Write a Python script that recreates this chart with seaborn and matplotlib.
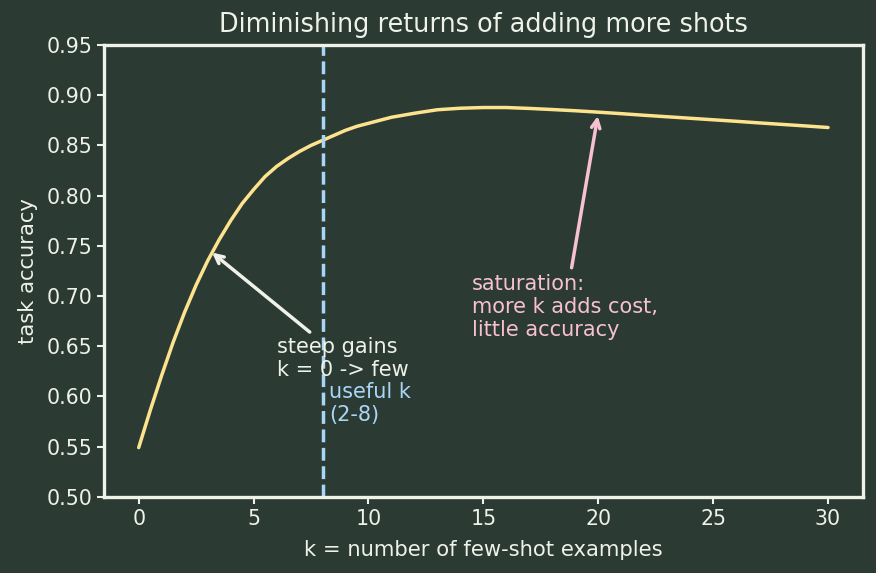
import numpy as np
import pandas as pd
import matplotlib
matplotlib.use("Agg")
import matplotlib.pyplot as plt
import seaborn as sns

# k values and accuracy
k_values = [0, 0.5, 1, 1.5, 2, 2.5, 3, 3.5, 4, 4.5, 5, 5.5, 6, 6.5, 7, 7.5,
            8, 8.5, 9, 9.5, 10, 10.5, 11, 11.5, 12,
            13, 14, 15, 16, 17, 18, 19, 20, 21, 22, 23, 24, 25, 26, 27, 28,
            29, 30]
accuracy = [0.549, 0.586, 0.621, 0.654, 0.684, 0.711, 0.735, 0.756, 0.775,
            0.792, 0.806, 0.819, 0.829, 0.837, 0.844, 0.850,
            0.855, 0.860, 0.865, 0.869, 0.872, 0.875, 0.878, 0.880, 0.882,
            0.8855, 0.887, 0.8877, 0.8877, 0.8868, 0.8857, 0.8845, 0.8831,
            0.8816, 0.8800, 0.8785, 0.8770, 0.8755, 0.8740, 0.8724, 0.8709,
            0.8694, 0.8678]

useful_k = 8
steep_point = (3.1, 0.745)
sat_point = (20, 0.882)

bg = "#2b3a33"
fg = "#eef2e8"
yellow = "#fde38e"
blue = "#aad6f5"
pink = "#f7c1d2"

sns.set_theme(style="dark")
plt.rcParams.update({
    "figure.facecolor": bg,
    "axes.facecolor": bg,
    "axes.edgecolor": fg,
    "axes.labelcolor": fg,
    "text.color": fg,
    "xtick.color": fg,
    "ytick.color": fg,
    "axes.grid": False,
})
plt.rcParams["font.family"] = ["DejaVu Sans"]

df = pd.DataFrame({"k": k_values, "acc": accuracy})

fig, ax = plt.subplots(figsize=(8.76, 5.73), dpi=100)
fig.subplots_adjust(left=0.119, right=0.9846, bottom=0.133, top=0.9215)

sns.lineplot(data=df, x="k", y="acc", ax=ax, color=yellow, linewidth=2.5)
ax.axvline(useful_k, color=blue, linestyle="--", linewidth=2.5)

ax.set_ylim(0.5, 0.95)
ax.set_yticks(np.arange(0.50, 0.951, 0.05))
ax.set_xticks([0, 5, 10, 15, 20, 25, 30])
ax.set_title("Diminishing returns of adding more shots", fontsize=18.4,
             color=fg, pad=9)
ax.set_xlabel("k = number of few-shot examples", fontsize=15.2, labelpad=8)
ax.set_ylabel("task accuracy", fontsize=15.2, labelpad=6)
ax.tick_params(axis="both", labelsize=14.8, length=5, width=1.5,
               bottom=True, left=True, direction="out")
for s in ax.spines.values():
    s.set_visible(True)
    s.set_color(fg)
    s.set_linewidth(2.4)

ax.annotate("steep gains\nk = 0 -> few", xy=steep_point, xytext=(6, 0.62),
            fontsize=15, color=fg,
            arrowprops=dict(arrowstyle="->", color=fg, lw=2.5))
ax.text(8.3, 0.575, "useful k\n(2-8)", fontsize=15, color=blue)
ax.annotate("saturation:\nmore k adds cost,\nlittle accuracy", xy=sat_point,
            xytext=(14.5, 0.66), fontsize=15, color=pink,
            arrowprops=dict(arrowstyle="->", color=pink, lw=2.5))

plt.savefig("out.png", facecolor=bg)
plt.close()
